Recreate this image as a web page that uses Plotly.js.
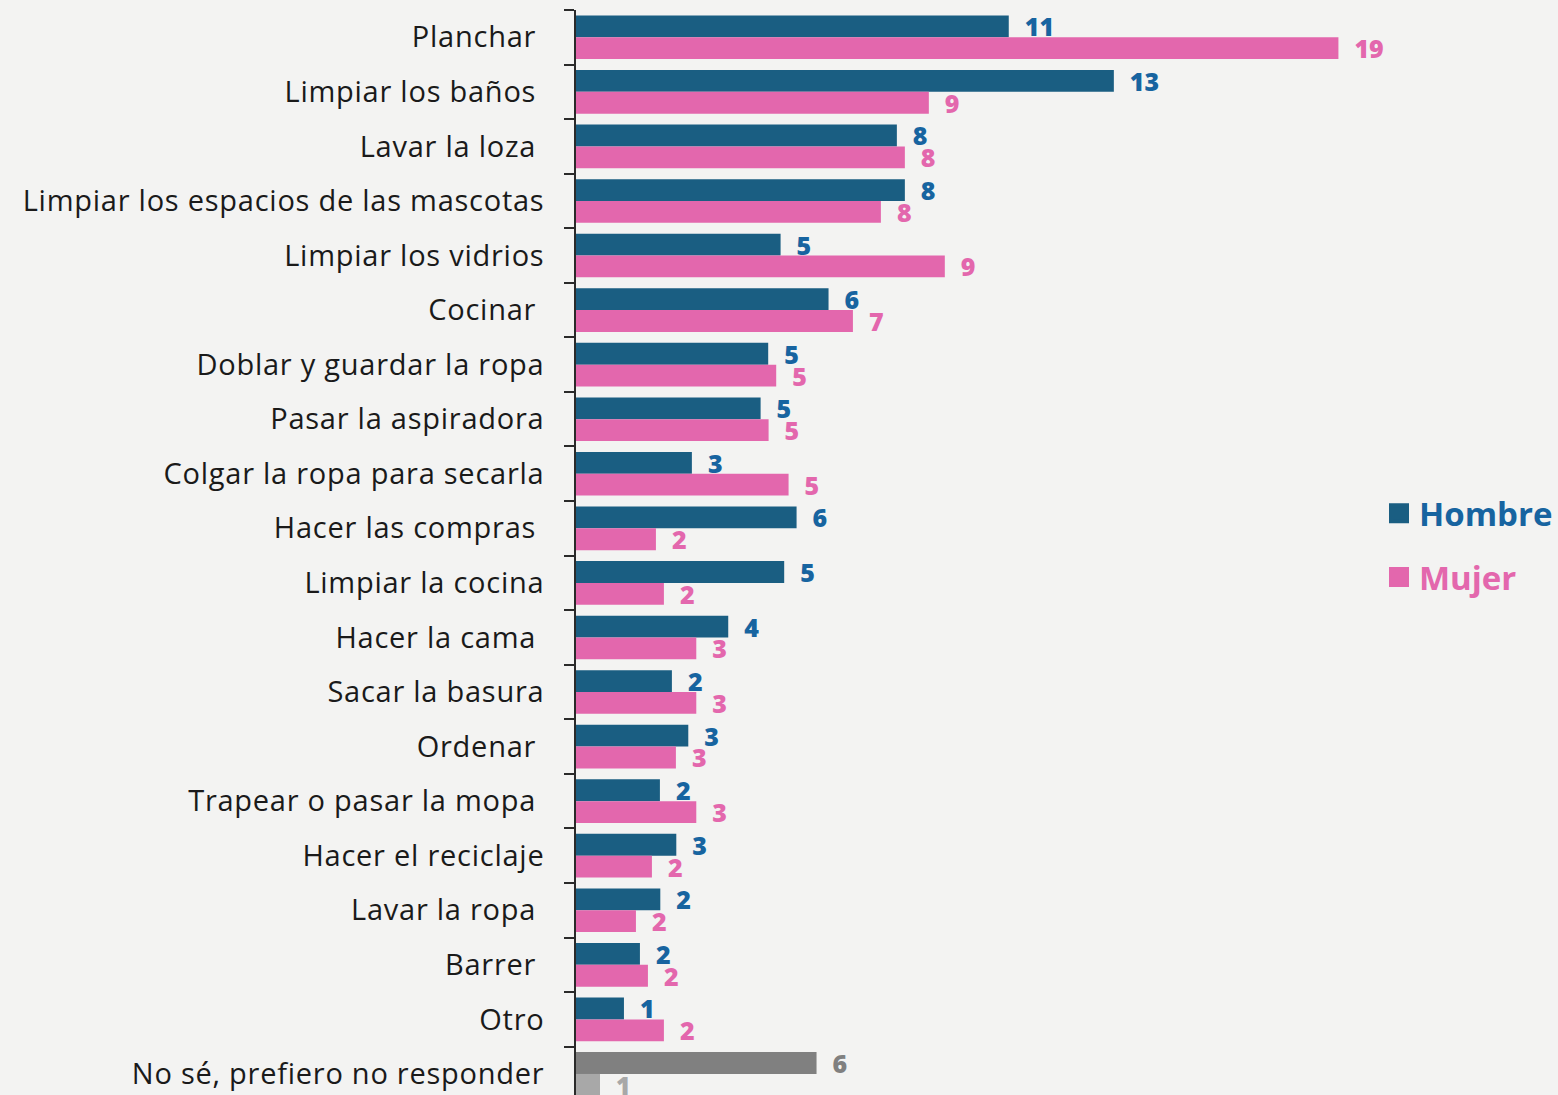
<!DOCTYPE html>
<html>
<head>
<meta charset="utf-8">
<script src="https://cdn.plot.ly/plotly-3.0.1.min.js"></script>
<style>
  html, body { margin: 0; padding: 0; background: #f3f3f2; overflow: hidden; }
  #chart { width: 1558px; height: 1095px; }
  #chart .ytick text { letter-spacing: 0.75px; }
</style>
</head>
<body>
<div id="chart"></div>
<script>
// Categories, top to bottom
const categories = [
  "Planchar\u00a0",
  "Limpiar los baños\u00a0",
  "Lavar la loza\u00a0",
  "Limpiar los espacios de las mascotas",
  "Limpiar los vidrios",
  "Cocinar\u00a0",
  "Doblar y guardar la ropa",
  "Pasar la aspiradora",
  "Colgar la ropa para secarla",
  "Hacer las compras\u00a0",
  "Limpiar la cocina",
  "Hacer la cama\u00a0",
  "Sacar la basura",
  "Ordenar\u00a0",
  "Trapear o pasar la mopa\u00a0",
  "Hacer el reciclaje",
  "Lavar la ropa\u00a0",
  "Barrer\u00a0",
  "Otro",
  "No sé, prefiero no responder"
];

// Values (%)
const hombre = [10.83, 13.46, 8.03, 8.23, 5.12, 6.32, 4.81, 4.62, 2.90, 5.52,
                5.21, 3.81, 2.40, 2.81, 2.10, 2.51, 2.11, 1.60, 1.20, 6.02];
const mujer  = [19.08, 8.83, 8.23, 7.63, 9.23, 6.93, 5.01, 4.82, 5.32, 2.00,
                2.20, 3.01, 3.01, 2.50, 3.01, 1.90, 1.50, 1.80, 2.20, 0.60];

const seriesNames = ["Hombre", "Mujer"];

const C_H_BAR = "#1a5e82", C_H_TXT = "#1764a0";
const C_M_BAR = "#e367ad", C_M_TXT = "#e367ad";
const C_G1 = "#808080", C_G2 = "#a8a8a8";
const lastIdx = categories.length - 1;

function colorsFor(n, main, last) {
  return Array.from({length: n}, (_, i) => i === lastIdx ? last : main);
}
function labelsFor(vals) {
  return vals.map(v => "\u00a0\u00a0" + Math.round(v));
}

const FONT = "Open Sans, sans-serif";

const traces = [
  {
    type: "bar", orientation: "h", name: seriesNames[0],
    y: categories, x: hombre,
    marker: { color: colorsFor(hombre.length, C_H_BAR, C_G1) },
    text: labelsFor(hombre), textposition: "outside", constraintext: "none",
    cliponaxis: false,
    textfont: { family: FONT, size: 25, weight: 800, color: colorsFor(hombre.length, C_H_TXT, C_G1) },
    showlegend: false, hoverinfo: "x+y"
  },
  {
    type: "bar", orientation: "h", name: seriesNames[1],
    y: categories, x: mujer,
    marker: { color: colorsFor(mujer.length, C_M_BAR, C_G2) },
    text: labelsFor(mujer), textposition: "outside", constraintext: "none",
    cliponaxis: false,
    textfont: { family: FONT, size: 25, weight: 800, color: colorsFor(mujer.length, C_M_TXT, C_G2) },
    showlegend: false, hoverinfo: "x+y"
  },
  // legend entries
  {
    type: "scatter", mode: "markers", x: [null], y: [null],
    name: '<span style="color:' + C_H_TXT + '"><b>' + seriesNames[0] + '</b></span>',
    marker: { symbol: "square", size: 22, color: C_H_BAR, line: { width: 4, color: C_H_BAR } },
    legendgroup: "h", showlegend: true, hoverinfo: "skip"
  },
  {
    type: "scatter", mode: "markers", x: [null], y: [null],
    name: '<span style="color:' + C_M_TXT + '"><b>' + seriesNames[1] + '</b></span>',
    marker: { symbol: "square", size: 22, color: C_M_BAR, line: { width: 4, color: C_M_BAR } },
    legendgroup: "m", showlegend: true, hoverinfo: "skip"
  }
];

const layout = {
  width: 1558, height: 1095,
  margin: { l: 576, r: 0, t: 10, b: 0, pad: 0 },
  paper_bgcolor: "#f3f3f2", plot_bgcolor: "rgba(0,0,0,0)",
  font: { family: FONT, color: "#1a1a1a" },
  barmode: "group", bargap: 0.2, bargroupgap: 0,
  xaxis: {
    range: [0, 24.55], visible: false, fixedrange: true
  },
  yaxis: {
    type: "category", categoryorder: "array", categoryarray: categories,
    range: [19.386, -0.5],
    showline: true, linecolor: "#2a2a2a", linewidth: 1.5,
    ticks: "outside", tickson: "boundaries", ticklen: 10, tickwidth: 1.5, tickcolor: "#2a2a2a",
    ticklabelstandoff: 24,
    tickfont: { family: FONT, size: 29, color: "#1a1a1a" },
    showgrid: false, zeroline: false, fixedrange: true
  },
  legend: {
    x: 0.8187, xanchor: "left", y: 0.562, yanchor: "top",
    bgcolor: "rgba(0,0,0,0)", borderwidth: 0,
    font: { family: FONT, size: 33 },
    tracegroupgap: 18, itemclick: false, itemdoubleclick: false
  },
  showlegend: true
};

Plotly.newPlot("chart", traces, layout, { displayModeBar: false, staticPlot: false });
</script>
</body>
</html>
